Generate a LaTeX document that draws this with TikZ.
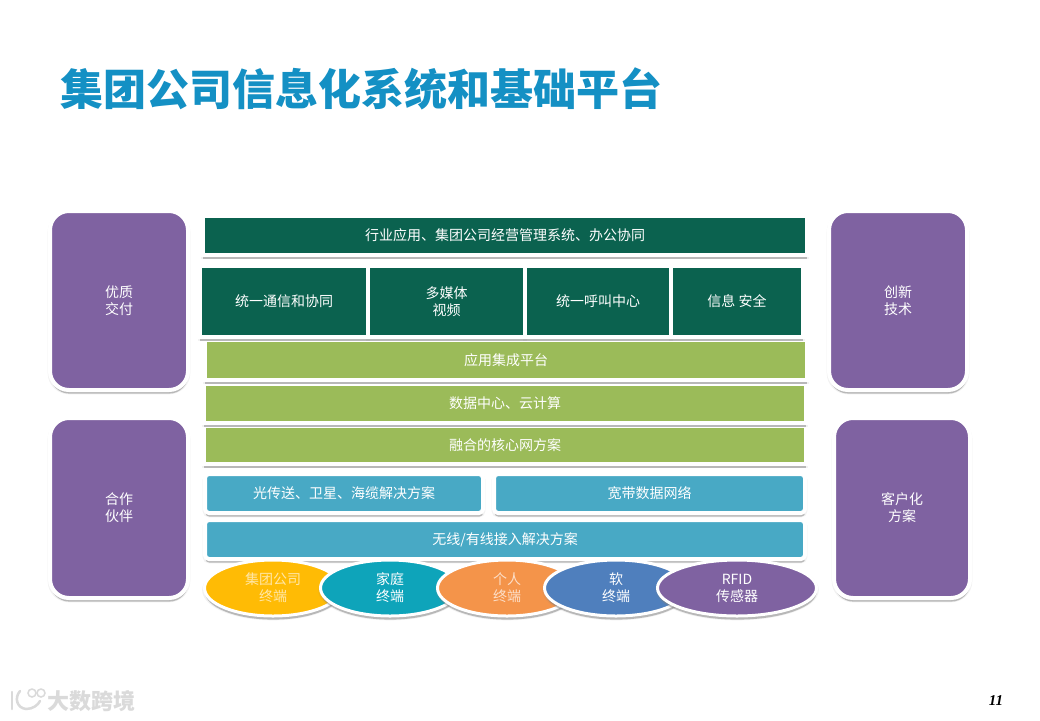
\documentclass[tikz,border=0pt]{standalone}
\usepackage{fontspec}
\setmainfont{Noto Sans CJK SC}
\newfontfamily\numfont{Liberation Serif}
\usetikzlibrary{shadows,shapes.geometric}
\definecolor{titleblue}{HTML}{1490C4}
\definecolor{deepgreen}{HTML}{0B624F}
\definecolor{olive}{HTML}{9BBB59}
\definecolor{skyblue}{HTML}{48A9C5}
\definecolor{panelpurple}{HTML}{7F62A1}
\definecolor{goldfill}{HTML}{FFBB05}
\definecolor{tealfill}{HTML}{0EA4BA}
\definecolor{orangefill}{HTML}{F4944A}
\definecolor{bluefill}{HTML}{4F7FBD}
\definecolor{markgrey}{HTML}{DADADA}
\tikzset{
  x=1pt,y=-1pt,
  plate/.style={draw=white,line width=4pt,align=center,inner sep=0pt,text=white,
    font=\fontsize{14}{17}\selectfont,
    drop shadow={shadow xshift=0pt,shadow yshift=-2pt,opacity=.1,draw=black!50,fill=black!50,line width=4.6pt},
    drop shadow={shadow xshift=0.3pt,shadow yshift=-3.6pt,opacity=.5,fill=black!50}},
  flatbar/.style={plate,fill=#1},
  roundbar/.style={plate,fill=#1,rounded corners=4pt},
  sidepanel/.style={plate,fill=panelpurple,rounded corners=19pt},
  disc/.style={ellipse,plate,line width=3pt,fill=#1}
}
\newcommand{\plate}[7]{\node[#6,minimum width={(#4-#2+4)*1pt},minimum height={(#5-#3+4)*1pt}]
  (#1) at ({(#2+#4)/2},{(#3+#5)/2}) {#7};}
\newcommand{\disc}[7]{\node[#6,minimum width={(2*#4+3)*1pt},minimum height={(2*#5+3)*1pt}]
  (#1) at (#2,#3) {#7};}
\begin{document}
\begin{tikzpicture}
\useasboundingbox[fill=white] (0,0) rectangle (1040,720);
\node[anchor=center,inner sep=0pt,text=titleblue,font=\bfseries\fontsize{43}{50}\selectfont] (title) at (361,89) {集团公司信息化系统和基础平台};

\plate{lefttop}{52}{213}{186}{388}{sidepanel}{优质\\交付}
\plate{leftbot}{52}{420}{186}{596}{sidepanel}{合作\\伙伴}
\plate{righttop}{831}{213}{965}{388}{sidepanel}{创新\\技术}
\plate{rightbot}{836}{420}{968}{596}{sidepanel}{客户化\\方案}

\plate{core}{206}{428}{804}{462}{flatbar=olive}{融合的核心网方案}
\plate{datac}{206}{386}{804}{421}{flatbar=olive}{数据中心、云计算}
\plate{appint}{207}{342}{805}{378}{flatbar=olive}{应用集成平台}
\plate{topbar}{205}{218}{805}{253}{flatbar=deepgreen}{行业应用、集团公司经营管理系统、办公协同}
\plate{cella}{202}{268}{366}{335}{flatbar=deepgreen}{统一通信和协同}
\plate{cellb}{370}{268}{523}{335}{flatbar=deepgreen}{多媒体\\视频}
\plate{cellc}{527}{268}{669}{335}{flatbar=deepgreen}{统一呼叫中心}
\plate{celld}{673}{268}{801}{335}{flatbar=deepgreen}{信息 安全}

\plate{fiber}{207}{476}{481}{511}{roundbar=skyblue}{光传送、卫星、海缆解决方案}
\plate{broad}{496}{476}{803}{511}{roundbar=skyblue}{宽带数据网络}
\plate{access}{207}{522}{803}{557}{roundbar=skyblue}{无线/有线接入解决方案}

\disc{ega}{273}{588}{67}{26.5}{disc=goldfill,text=white!65!goldfill}{集团公司\\终端}
\disc{egb}{390}{588}{68}{26.5}{disc=tealfill}{家庭\\终端}
\disc{egc}{507}{588}{68}{26.5}{disc=orangefill,text=white!70!orangefill}{个人\\终端}
\disc{egd}{616}{588}{70}{26.5}{disc=bluefill}{软\\终端}
\disc{ege}{737}{588}{78}{26.5}{disc=panelpurple}{RFID\\传感器}

\node[inner sep=0pt,font=\numfont\bfseries\itshape\fontsize{15}{17}\selectfont] (page) at (996,701) {11};

\node[inner sep=0pt,text=markgrey,font=\bfseries\fontsize{22}{24}\selectfont] (mark) at (91,701) {大数跨境};
\draw[markgrey,line width=2.5pt,line cap=round] (12,692) -- (12,709);
\draw[markgrey,line width=2.5pt,line cap=round] (20,691) .. controls (14,698) and (17,708) .. (26,709) .. controls (33,709) and (38,705) .. (40,701);
\draw[markgrey,line width=1.5pt] (32,693) circle (4);
\draw[markgrey,line width=1.5pt] (41,693) circle (4);
\end{tikzpicture}
\end{document}
